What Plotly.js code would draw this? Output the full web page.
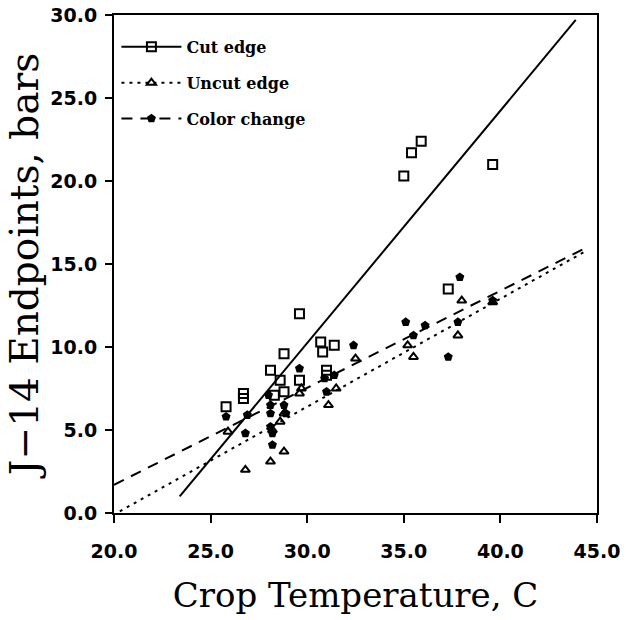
<!DOCTYPE html>
<html>
<head>
<meta charset="utf-8">
<script src="https://cdn.plot.ly/plotly-3.0.1.min.js"></script>
<style>html,body{margin:0;padding:0;background:#fff;}#chart{width:626px;height:620px;}</style>
</head>
<body>
<div id="chart"></div>
<script>
// Cut edge (open squares)
const cutX = [25.8, 26.7, 26.7, 28.1, 28.3, 28.6, 28.8, 28.8, 29.6, 29.6, 30.7, 30.8, 31.0, 31.0, 31.4, 35.0, 35.4, 35.9, 37.3, 39.6];
const cutY = [6.4, 7.2, 6.9, 8.6, 7.1, 8.0, 9.6, 7.3, 12.0, 8.0, 10.3, 9.7, 8.6, 8.3, 10.1, 20.3, 21.7, 22.4, 13.5, 21.0];
// Uncut edge (open triangles)
const uncutX = [25.9, 26.8, 28.1, 28.8, 28.6, 28.8, 28.2, 29.6, 29.7, 31.1, 31.5, 32.5, 35.2, 35.5, 37.8, 38.0, 39.6];
const uncutY = [4.9, 2.6, 3.1, 3.7, 5.5, 6.0, 5.0, 7.2, 7.5, 6.5, 7.5, 9.3, 10.1, 9.4, 10.7, 12.8, 12.7];
// Color change (filled stars)
const colorX = [25.8, 26.8, 26.9, 28.0, 28.1, 28.1, 28.1, 28.2, 28.2, 28.8, 28.9, 29.6, 30.9, 31.0, 31.4, 32.4, 35.1, 35.5, 36.1, 37.3, 37.8, 37.9, 39.6];
const colorY = [5.8, 4.8, 5.9, 7.1, 6.5, 6.0, 5.2, 4.1, 4.8, 6.5, 6.0, 8.7, 8.1, 7.3, 8.3, 10.1, 11.5, 10.7, 11.3, 9.4, 11.5, 14.2, 12.8];
// Fitted regression lines, endpoints
const cutFitX = [23.4, 43.9];
const cutFitY = [1.0, 29.7];
const uncutFitX = [20.3, 44.3];
const uncutFitY = [0.1, 15.7];
const colorFitX = [20.0, 44.3];
const colorFitY = [1.7, 15.9];
// Tick values
const xTicks = [20, 25, 30, 35, 40, 45];
const yTicks = [0, 5, 10, 15, 20, 25, 30];

function isolate(arr) { return arr.flatMap(v => [v, null]); }

const styles = {
  cut:   {dash: 'solid', sym: 'square-open', size: 9},
  uncut: {dash: '3px,5px', sym: 'triangle-up-open', size: 8},
  color: {dash: '11px,8px', sym: 'pentagon', size: 7}
};

function series(name, key, xs, ys, fx, fy) {
  const s = styles[key];
  return [
    {x: fx, y: fy, mode: 'lines', showlegend: false, legendgroup: key, hoverinfo: 'skip',
     line: {color: '#000', width: 2, dash: s.dash}},
    {x: isolate(xs), y: isolate(ys), name: name, legendgroup: key, mode: 'lines+markers', connectgaps: false,
     line: {color: '#000', width: 2, dash: s.dash},
     marker: {symbol: s.sym, size: s.size, color: '#000', line: {color: '#000', width: 2}}}
  ];
}

const data = [].concat(
  series('Cut edge', 'cut', cutX, cutY, cutFitX, cutFitY),
  series('Uncut edge', 'uncut', uncutX, uncutY, uncutFitX, uncutFitY),
  series('Color change', 'color', colorX, colorY, colorFitX, colorFitY)
);

const tickFont = {family: 'DejaVu Sans', size: 19, color: '#000', weight: 'bold'};
const layout = {
  width: 626, height: 620,
  margin: {l: 114, r: 29, t: 15, b: 107},
  paper_bgcolor: '#fff', plot_bgcolor: '#fff',
  showlegend: true,
  legend: {x: 0.005, y: 0.97, xanchor: 'left', yanchor: 'top', traceorder: 'grouped', tracegroupgap: 12,
    itemwidth: 60, bgcolor: 'rgba(0,0,0,0)',
    font: {family: 'DejaVu Serif', size: 16, color: '#000', weight: 'bold'}},
  xaxis: {range: [20, 45], tickvals: xTicks, tickformat: '.1f', ticks: 'outside', ticklen: 8, tickwidth: 2,
    tickcolor: '#000', showline: true, linewidth: 2, linecolor: '#000', mirror: true, showgrid: false, zeroline: false,
    tickfont: tickFont, ticklabelstandoff: 12,
    title: {text: 'Crop Temperature, C', font: {family: 'DejaVu Serif', size: 34, color: '#000'}, standoff: 22}},
  yaxis: {range: [0, 30], tickvals: yTicks, tickformat: '.1f', ticks: 'outside', ticklen: 7, tickwidth: 2,
    tickcolor: '#000', showline: true, linewidth: 2, linecolor: '#000', mirror: true, showgrid: false, zeroline: false,
    tickfont: tickFont, ticklabelstandoff: 4,
    title: {text: 'J\u221214 Endpoints, bars', font: {family: 'DejaVu Serif', size: 39, color: '#000'}, standoff: 0}}
};

Plotly.newPlot('chart', data, layout, {displayModeBar: false, staticPlot: true});
</script>
</body>
</html>
